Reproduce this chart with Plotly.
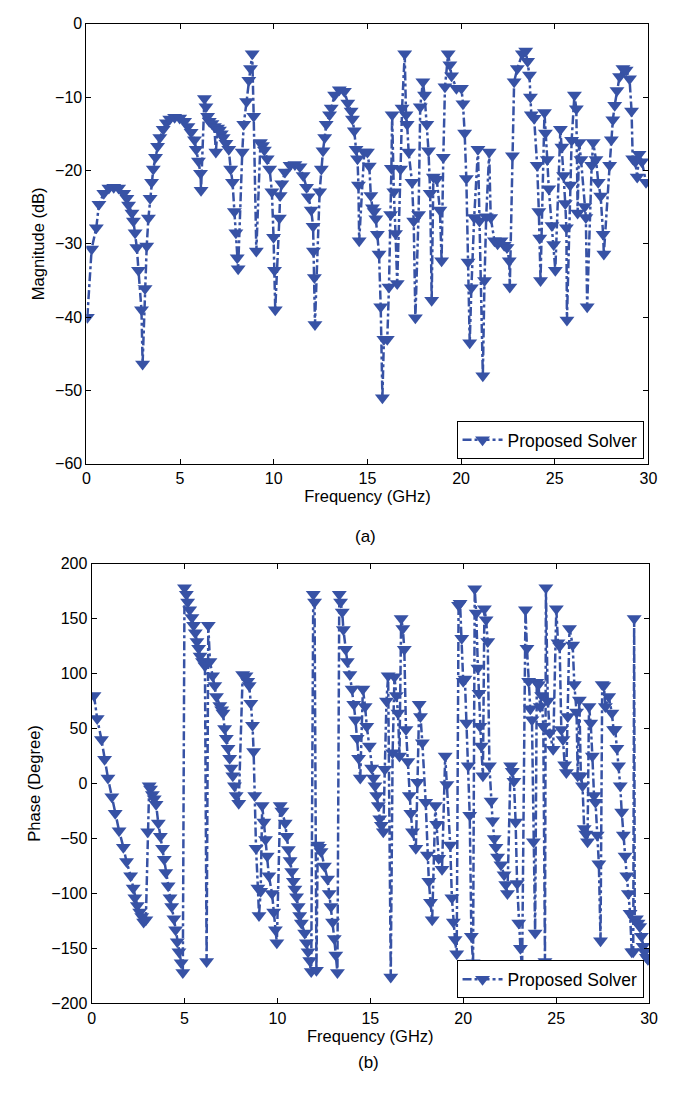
import plotly.graph_objects as go

# ---------------- (a) Magnitude ----------------
freq_mag = [0.05, 0.28, 0.53, 0.67, 0.93, 1.2, 1.46, 1.72, 1.99, 2.16, 2.25, 2.43, 2.51, 2.6, 2.69, 2.78, 2.94, 3.0,
            3.13, 3.22, 3.31, 3.4, 3.48, 3.57, 3.69, 3.8, 3.92, 4.1, 4.27, 4.45, 4.71, 4.98, 5.24, 5.42, 5.59, 5.77,
            5.86, 5.98, 6.09, 6.12, 6.3, 6.38, 6.47, 6.56, 6.7, 6.83, 6.91, 7.0, 7.1, 7.2, 7.3, 7.45, 7.6, 7.7, 7.8,
            7.9, 7.98, 8.05, 8.1, 8.32, 8.4, 8.55, 8.67, 8.76, 8.85, 8.93, 9.07, 9.29, 9.4, 9.5, 9.65, 9.78, 9.9,
            9.99, 10.04, 10.08, 10.3, 10.34, 10.43, 10.6, 10.87, 11.13, 11.4, 11.57, 11.75, 11.84, 12.0, 12.1, 12.12,
            12.17, 12.2, 12.45, 12.54, 12.63, 12.72, 12.8, 12.98, 13.07, 13.25, 13.5, 13.77, 13.95, 14.13, 14.2, 14.3,
            14.39, 14.47, 14.52, 14.56, 14.83, 15.0, 15.1, 15.18, 15.27, 15.36, 15.45, 15.53, 15.62, 15.71, 15.8,
            15.88, 16.06, 16.15, 16.24, 16.28, 16.32, 16.41, 16.5, 16.59, 16.77, 16.85, 16.99, 17.06, 17.12, 17.2,
            17.38, 17.47, 17.56, 17.73, 17.82, 17.96, 18.05, 18.17, 18.26, 18.35, 18.43, 18.52, 18.7, 18.87, 18.96,
            19.05, 19.14, 19.31, 19.4, 19.49, 19.75, 20.02, 20.1, 20.19, 20.28, 20.37, 20.46, 20.55, 20.7, 20.9,
            20.98, 21.16, 21.25, 21.34, 21.5, 21.58, 21.78, 21.95, 22.13, 22.3, 22.45, 22.57, 22.6, 22.74, 22.83,
            23.0, 23.27, 23.45, 23.55, 23.65, 23.7, 23.75, 23.9, 24.06, 24.15, 24.2, 24.24, 24.45, 24.5, 24.6, 24.68,
            24.85, 24.94, 25.03, 25.3, 25.38, 25.47, 25.56, 25.62, 25.65, 25.82, 25.9, 26.05, 26.15, 26.22, 26.3,
            26.4, 26.6, 26.66, 26.73, 26.97, 27.05, 27.2, 27.32, 27.45, 27.58, 27.62, 27.93, 28.02, 28.1, 28.2,
            28.32, 28.46, 28.64, 28.81, 28.99, 29.1, 29.16, 29.3, 29.4, 29.5, 29.65, 29.87]
mag_db = [-40, -30.7, -27.8, -24.6, -23.1, -22.4, -22.3, -22.4, -23.1, -23.8, -24.7, -25.8, -26.9, -28.5, -30.5, -33.6, -39, -46.4,
          -36.1, -30.3, -26.5, -23.8, -21.6, -19.8, -18.2, -16.7, -15.5, -14.4, -13.5, -13.0, -12.75, -12.85, -13.3, -14, -14.8, -15.8,
          -17.1, -18.7, -20.4, -22.7, -10.2, -11.3, -12.6, -13.3, -13.6, -14.0, -17.5, -14.2, -14.5, -15.0, -15.5, -16.3, -17.1, -19.8, -21.6,
          -25.6, -28.5, -31.9, -33.4, -17.5, -13.7, -10.6, -7.7, -6.1, -4.1, -12.6, -31, -16.2, -16.6, -17.2, -18.4, -19.8, -22.9,
          -29.1, -33.6, -39, -26.5, -23.4, -21.8, -20.2, -19.3, -19.2, -19.5, -20.7, -22.3, -23.6, -25.4, -27.6, -31,
          -34.6, -41, -22.9, -19.8, -17.3, -15.5, -13.7, -12.4, -11.5, -9.7, -9.0, -9.2, -10.8, -11.9, -13.0, -14.6,
          -17.1, -18.4, -22.0, -29.6, -17.5, -17.5, -19.4, -23.4, -25.1, -25.6, -26.6, -28.7, -31.4, -38.6, -51,
          -43, -43, -35.9, -26, -19.7, -12.4, -22.9, -28.6, -35.4, -19.8, -11.5, -4.1, -12.4, -13.7, -17.5,
          -21.6, -26.9, -40.1, -26, -11.3, -7.9, -9.7, -13.7, -17.3, -23.1, -37.7, -20.9, -21.2, -25.4, -32.3,
          -18.2, -8.6, -4.1, -5.6, -7.1, -8.8, -8.8, -10.9, -14.9, -21.1, -32.5, -43.5, -36, -26.4, -17.1,
          -26.9, -48, -35, -26.3, -17.5, -26.4, -29.6, -30, -29.6, -30.2, -30.5, -32.3, -35.9, -18, -7.9,
          -6.1, -4.1, -3.7, -5.1, -7.0, -10.0, -12.4, -12.9, -19.3, -25.6, -29.2, -35, -12.1, -14.9, -18.5, -22.5,
          -27.5, -30.1, -33.6, -14.4, -16.8, -20.7, -24.5, -27.8, -40.4, -22, -15.9, -9.7, -11.6, -25.8, -16.2,
          -18.5, -24.9, -26.4, -38.6, -19.3, -16.2, -18.5, -21.6, -23.5, -28.7, -31.4, -19.3, -15.8, -13.1, -11.1,
          -9.1, -7.2, -6.1, -6.3, -7.5, -11.9, -18.4, -18.8, -20.9, -17.8, -18.8, -21.6]

# ---------------- (b) Phase ----------------
freq_ph = [0.13, 0.3, 0.53, 0.7, 0.88, 1.09, 1.27, 1.48, 1.71, 1.88, 2.1, 2.24, 2.33, 2.46, 2.59, 2.7, 2.8, 2.92,
           3.02, 3.1, 3.17, 3.27, 3.37, 3.47, 3.59, 3.7, 3.82, 3.91, 3.99, 4.12, 4.22, 4.31, 4.43, 4.52, 4.61, 4.7,
           4.82, 4.91, 5.0, 5.1, 5.17, 5.28, 5.4, 5.49, 5.58, 5.67, 5.76, 5.84, 5.97, 6.1, 6.19, 6.28, 6.37, 6.51,
           6.63, 6.72, 6.9, 7.0, 7.07, 7.16, 7.25, 7.34, 7.43, 7.51, 7.6, 7.69, 7.78, 7.92, 8.13, 8.31, 8.4, 8.48,
           8.57, 8.66, 8.72, 8.78, 8.85, 8.95, 9.01, 9.1, 9.18, 9.27, 9.36, 9.45, 9.54, 9.71, 9.8, 9.89, 9.97,
           10.15, 10.24, 10.42, 10.5, 10.59, 10.68, 10.77, 10.86, 10.94, 11.03, 11.12, 11.2, 11.29, 11.47, 11.56,
           11.65, 11.74, 11.82, 11.93, 12.0, 12.1, 12.17, 12.26, 12.35, 12.53, 12.7, 12.79, 12.88, 12.97, 13.06,
           13.14, 13.23, 13.33, 13.4, 13.49, 13.55, 13.67, 13.76, 13.9, 14.02, 14.11, 14.2, 14.29, 14.37, 14.46,
           14.6, 14.72, 14.81, 14.95, 15.07, 15.17, 15.25, 15.34, 15.43, 15.51, 15.6, 15.7, 15.78, 15.87, 15.96,
           16.1, 16.2, 16.3, 16.4, 16.49, 16.57, 16.66, 16.75, 16.83, 16.92, 17.02, 17.1, 17.18, 17.27, 17.45,
           17.54, 17.63, 17.7, 17.8, 17.98, 18.07, 18.15, 18.24, 18.33, 18.5, 18.57, 18.68, 18.86, 19.03, 19.12,
           19.3, 19.39, 19.47, 19.56, 19.65, 19.75, 19.83, 19.92, 20.0, 20.09, 20.18, 20.27, 20.35, 20.44, 20.53,
           20.62, 20.7, 20.79, 20.85, 20.9, 20.97, 21.06, 21.14, 21.23, 21.32, 21.41, 21.5, 21.58, 21.67, 21.76,
           21.85, 22.03, 22.2, 22.29, 22.38, 22.55, 22.64, 22.73, 22.82, 22.9, 22.99, 23.08, 23.17, 23.35, 23.43,
           23.52, 23.61, 23.7, 23.78, 23.87, 23.96, 24.05, 24.14, 24.22, 24.31, 24.4, 24.45, 24.55, 24.66, 24.84,
           25.01, 25.1, 25.19, 25.28, 25.37, 25.46, 25.55, 25.63, 25.72, 25.89, 25.98, 26.1, 26.16, 26.25, 26.33,
           26.42, 26.51, 26.6, 26.69, 26.77, 26.86, 26.95, 27.04, 27.12, 27.21, 27.3, 27.39, 27.48, 27.57, 27.65,
           27.83, 28.0, 28.09, 28.18, 28.27, 28.36, 28.45, 28.53, 28.62, 28.71, 28.8, 28.89, 28.98, 29.07, 29.15,
           29.2, 29.23, 29.32, 29.41, 29.5, 29.59, 29.68, 29.76, 29.86, 29.94]
phase_deg = [80, 59, 40, 22, 5, -12, -27, -43, -58, -71, -84, -95, -104, -111, -117, -121, -126, -124,
             -44, -2, -5, -10, -14, -19, -36, -48, -59, -69, -81, -93, -104, -112, -123, -133, -144, -153,
             -163, -172, 178, 172, 165, 158, 151, 144, 137, 129, 123, 116, 111, 107, -162, 144, 111, 98,
             89, 79, 71, 67, 64, 50, 41, 32, 23, 14, 7, -2, -11, -18, 99, 98, 93, 89,
             73, 53, 29, -11, -59, -95, -120, -98, -20, -35, -51, -66, -84, -100, -117, -133, -145,
             -20, -25, -36, -48, -60, -70, -80, -89, -96, -103, -112, -120, -127, -136, -145,
             -153, -161, -171, 172, 165, -170, -56, -58, -62, -75, -87, -100, -112, -126, -141,
             -156, -172, 172, 165, 156, 140, 122, 111, 99, 86, 72, 58, 41, 23, 5,
             86, 70, 52, 34, 14, 5, -2, -11, -20, -32, -38, -44, 13, 75, 98,
             -176, 28, 97, 80, 64, 25, 150, 141, 122, 49, 20, -11, -27, -44, -59,
             1, 72, 61, 37, -17, -65, -89, -108, -124, -20, -37, -68, -78, 25, -1,
             -56, -104, -126, -142, -155, 162, 164, 132, 93, 95, 55, 16, -29, -139, -163,
             177, 155, 105, 82, 52, 34, 7, 159, 149, 129, 16, -16, -34, -50, -58,
             -67, -74, -83, -92, -100, 16, 11, 2, -35, -91, -127, -150, -169, 158, 123,
             93, 68, 58, -53, -136, 92, 90, 70, 80, 52, -162, 178, 75, 46, 31,
             159, 128, 125, 49, 40, 17, 10, 61, 141, 126, 90, 65, 7, 76, 7,
             -2, -41, -46, -53, 70, 55, 25, -11, -17, -47, -73, -143, 90, 89, 70,
             79, 64, 49, 49, 32, 16, -2, -26, -47, -66, -84, -100, -118, -153, -153,
             150, -124, -123, -127, -130, -139, -148, -153, -158, -160]

BLUE = "rgb(55,82,165)"
FONT = "Liberation Sans, Arial, sans-serif"

fig = go.Figure()
fig.add_trace(go.Scatter(
    x=freq_mag, y=mag_db, mode="lines+markers", name="Proposed Solver", showlegend=True,
    line=dict(color=BLUE, width=2.5, dash="dashdot"),
    marker=dict(symbol="triangle-down", size=13, color=BLUE),
    xaxis="x", yaxis="y", legend="legend"))
fig.add_trace(go.Scatter(
    x=freq_ph, y=phase_deg, mode="lines+markers", name="Proposed Solver", showlegend=True,
    line=dict(color=BLUE, width=2.5, dash="dashdot"),
    marker=dict(symbol="triangle-down", size=13, color=BLUE),
    xaxis="x2", yaxis="y2", legend="legend2"))

W, H = 680, 1097
def px(v): return v / W
def py(v): return 1 - v / H

axis_common = dict(showline=True, linecolor="black", linewidth=1, mirror="ticks",
                   ticks="inside", ticklen=5, tickcolor="black", showgrid=False, zeroline=False,
                   tickfont=dict(family=FONT, size=16, color="black"),
                   title_font=dict(family=FONT, size=16.5, color="black"))

legend_common = dict(xanchor="right", yanchor="bottom", bgcolor="white", bordercolor="black",
                     borderwidth=1, font=dict(family=FONT, size=17.5, color="black"),
                     itemwidth=40, tracegroupgap=0)

fig.update_layout(
    width=W, height=H, margin=dict(l=0, r=0, t=0, b=0),
    paper_bgcolor="white", plot_bgcolor="white",
    font=dict(family=FONT, size=16, color="black"),
    xaxis=dict(domain=[px(84), px(657)], range=[0, 30], tickvals=[0, 5, 10, 15, 20, 25, 30],
               anchor="y", title=dict(text="Frequency (GHz)", standoff=4), **axis_common),
    yaxis=dict(domain=[py(463), py(16)], range=[-60, 0], tickvals=list(range(-60, 1, 10)),
               anchor="x", title=dict(text="Magnitude (dB)", standoff=6), **axis_common),
    xaxis2=dict(domain=[px(89.3), px(657.6)], range=[0, 30], tickvals=[0, 5, 10, 15, 20, 25, 30],
                anchor="y2", title=dict(text="Frequency (GHz)", standoff=4), **axis_common),
    yaxis2=dict(domain=[py(1011), py(564.3)], range=[-200, 200], tickvals=list(range(-200, 201, 50)),
                anchor="x2", title=dict(text="Phase (Degree)", standoff=6), **axis_common),
    legend=dict(x=px(652), y=py(458), **legend_common),
    legend2=dict(x=px(652), y=py(1006), **legend_common),
    annotations=[
        dict(text="(a)", x=px(369), y=py(537), xref="paper", yref="paper", showarrow=False,
             font=dict(family=FONT, size=17, color="black")),
        dict(text="(b)", x=px(372), y=py(1083), xref="paper", yref="paper", showarrow=False,
             font=dict(family=FONT, size=17, color="black")),
    ],
)

fig.write_html("out.html")
